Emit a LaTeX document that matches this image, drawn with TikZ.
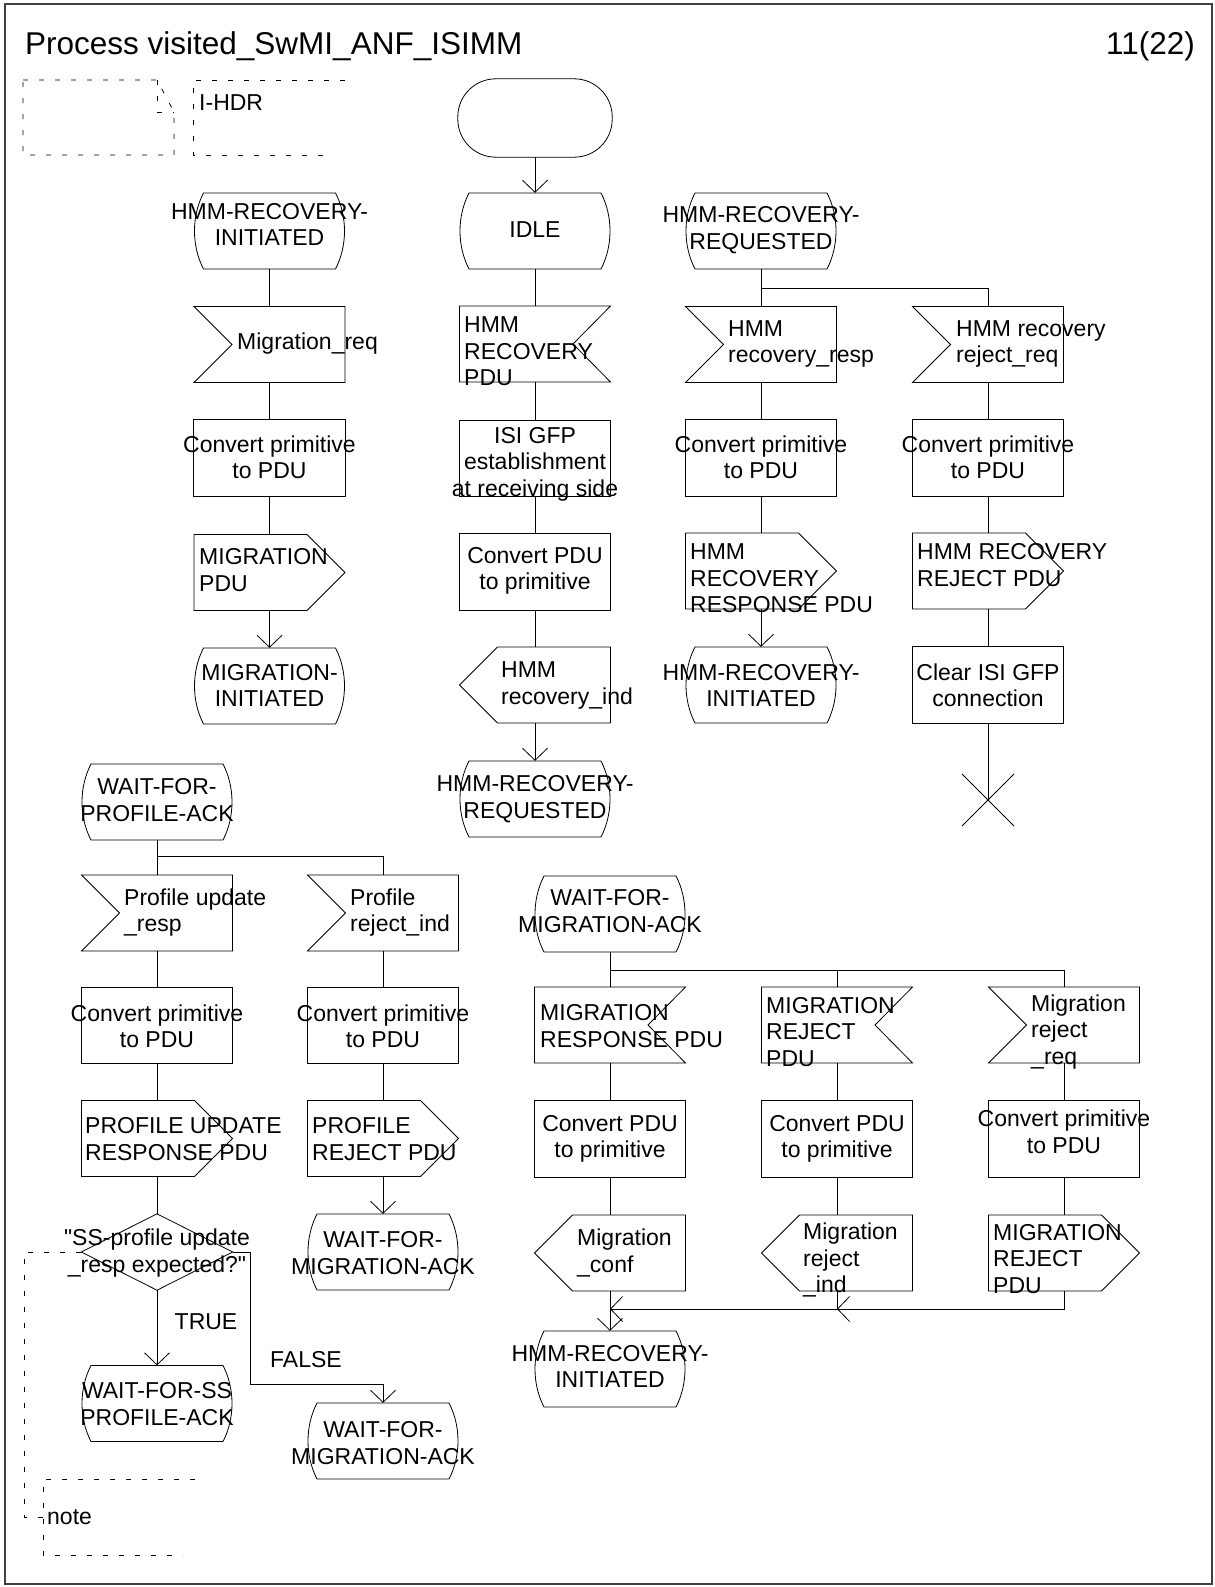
\documentclass[tikz,border=0pt]{standalone}
\usepackage{fontspec}
\setmainfont{Liberation Sans}
\usetikzlibrary{arrows.meta}
\tikzset{
  sdl/.style={rectangle, minimum width=151pt, minimum height=76pt, inner sep=0pt, draw=none},
  shp/.style={draw=black, line width=0.8pt},
  ln/.style={draw=black, line width=0.8pt},
  arr/.style={ln, -{Straight Barb[length=12pt,width=25pt]}},
  txt/.style={inner sep=0pt, font=\fontsize{23}{26.5}\selectfont},
  ttl/.style={inner sep=0pt, font=\fontsize{31.5}{36}\selectfont},
  dsh/.style={draw=black, line width=0.8pt, dash pattern=on 5pt off 11pt},
  frame/.style={draw=black!75, line width=1.5pt},
}
\newcommand{\sdlState}[3]{\node[sdl] (#1) at (#2,#3) {};
  \draw[shp,shift={(#2,#3)}] (-66,-38) -- (66,-38) .. controls (78,-15) and (78,15) .. (66,38) -- (-66,38) .. controls (-78,15) and (-78,-15) .. (-66,-38) -- cycle;}
\newcommand{\sdlInput}[3]{\node[sdl] (#1) at (#2,#3) {};
  \draw[shp,shift={(#2,#3)}] (-75.5,-38) -- (75.5,-38) -- (75.5,38) -- (-75.5,38) -- (-37.5,0) -- cycle;}
\newcommand{\sdlInputR}[3]{\node[sdl] (#1) at (#2,#3) {};
  \draw[shp,shift={(#2,#3)}] (-75.5,-38) -- (75.5,-38) -- (38,0) -- (75.5,38) -- (-75.5,38) -- cycle;}
\newcommand{\sdlOutput}[3]{\node[sdl] (#1) at (#2,#3) {};
  \draw[shp,shift={(#2,#3)}] (-75.5,-38) -- (37.5,-38) -- (75.5,0) -- (37.5,38) -- (-75.5,38) -- cycle;}
\newcommand{\sdlOutputL}[3]{\node[sdl] (#1) at (#2,#3) {};
  \draw[shp,shift={(#2,#3)}] (-75.5,0) -- (-37.5,-38) -- (75.5,-38) -- (75.5,38) -- (-37.5,38) -- cycle;}
\newcommand{\sdlTask}[3]{\node[sdl] (#1) at (#2,#3) {};
  \draw[shp] (#1.north west) rectangle (#1.south east);}
\newcommand{\sdlDecision}[3]{\node[sdl] (#1) at (#2,#3) {};
  \draw[shp] (#1.north) -- (#1.east) -- (#1.south) -- (#1.west) -- cycle;}
\begin{document}
\begin{tikzpicture}[x=1pt,y=-1pt]
\useasboundingbox (0,0) rectangle (1215,1587);
\draw[frame] (5,4) rectangle (1212,1584);
\node[ttl, anchor=west] (title) at (25,46) {Process visited\_SwMI\_ANF\_ISIMM};
\node[ttl, anchor=east] (page) at (1195,46) {11(22)};

% I-HDR text symbol
\draw[dsh] (23,80) -- (157,80) -- (174,112) -- (174,155) -- (23,155) -- cycle;
\draw[dsh] (157,80) -- (157,112) -- (174,112);
\draw[dsh] (345,80) -- (193,80) -- (193,155) -- (333,155);
\node[txt, anchor=west] (ihdr) at (199,103) {I-HDR};

% Column A
\sdlState{A1}{269.5}{231}
\sdlInput{A2}{269.5}{344.5}
\sdlTask{A3}{269.5}{458}
\sdlOutput{A4}{269.5}{572.5}
\sdlState{A5}{269.5}{686}
\node[txt, align=center] (tA1) at (269.5,224.5) {HMM-RECOVERY-\\INITIATED};
\node[txt, anchor=west] (tA2) at (237,344) {Migration\_req};
\node[txt, align=center] (tA3) at (269.5,457.5) {Convert primitive\\to PDU};
\node[txt, anchor=west, align=left] (tA4) at (199,570) {MIGRATION\\PDU};
\node[txt, align=center] (tA5) at (269.5,685.5) {MIGRATION-\\INITIATED};
\draw[ln] (A1.south) -- (A2.north) (A2.south) -- (A3.north) (A3.south) -- (A4.north);
\draw[arr] (A4.south) -- (A5.north);

% Column B
\node[sdl, minimum width=154pt, minimum height=78pt] (B0) at (535,118) {};
\draw[shp, rounded corners=38pt] (B0.south west) rectangle (B0.north east);
\sdlState{B1}{535}{231}
\sdlInputR{B2}{535}{344}
\sdlTask{B3}{535}{458.5}
\sdlTask{B4}{535}{572}
\sdlOutputL{B5}{535}{685}
\sdlState{B6}{535}{799}
\node[txt] (tB1) at (535,230) {IDLE};
\node[txt, anchor=west, align=left] (tB2) at (464,351.5) {HMM\\RECOVERY\\PDU};
\node[txt, align=center] (tB3) at (535,464) {ISI GFP\\establishment\\at receiving side};
\node[txt, align=center] (tB4) at (535,571) {Convert PDU\\to primitive};
\node[txt, anchor=west, align=left] (tB5) at (501,685.5) {HMM\\recovery\_ind};
\node[txt, align=center] (tB6) at (535,799) {HMM-RECOVERY-\\REQUESTED};
\draw[arr] (B0.south) -- (B1.north);
\draw[ln] (B1.south) -- (B2.north) (B2.south) -- (B3.north) (B3.south) -- (B4.north) (B4.south) -- (B5.north);
\draw[arr] (B5.south) -- (B6.north);

% Column C
\sdlState{C1}{761}{231}
\sdlInput{C2}{761}{344.5}
\sdlTask{C3}{761}{458}
\sdlOutput{C4}{761}{571}
\sdlState{C5}{761}{685}
\node[txt, align=center] (tC1) at (761,230) {HMM-RECOVERY-\\REQUESTED};
\node[txt, anchor=west, align=left] (tC2) at (728,344) {HMM\\recovery\_resp};
\node[txt, align=center] (tC3) at (761,457.5) {Convert primitive\\to PDU};
\node[txt, anchor=west, align=left] (tC4) at (690,578.5) {HMM\\RECOVERY\\RESPONSE PDU};
\node[txt, align=center] (tC5) at (761,685.5) {HMM-RECOVERY-\\INITIATED};
\coordinate (brC) at (761,288);
\draw[ln] (C1.south) -- (C2.north) (C2.south) -- (C3.north) (C3.south) -- (C4.north);
\draw[arr] (C4.south) -- (C5.north);

% Column D
\sdlInput{D2}{988}{344.5}
\sdlTask{D3}{988}{458}
\sdlOutput{D4}{988}{571}
\sdlTask{D5}{988}{685}
\node[txt, anchor=west, align=left] (tD2) at (956,344) {HMM recovery\\reject\_req};
\node[txt, align=center] (tD3) at (988,457.5) {Convert primitive\\to PDU};
\node[txt, anchor=west, align=left] (tD4) at (917,565) {HMM RECOVERY\\REJECT PDU};
\node[txt, align=center] (tD5) at (988,685.5) {Clear ISI GFP\\connection};
\coordinate (stopD) at (988,800);
\draw[ln] (brC) -| (D2.north);
\draw[ln] (D2.south) -- (D3.north) (D3.south) -- (D4.north) (D4.south) -- (D5.north) (D5.south) -- (stopD);
\draw[ln] (stopD) +(-26,-26) -- +(26,26) (stopD) +(-26,26) -- +(26,-26);

% Column E
\sdlState{E1}{157}{802}
\sdlInput{E2}{157}{913}
\sdlTask{E3}{157}{1025.5}
\sdlOutput{E4}{157}{1138.5}
\sdlDecision{E5}{157}{1252}
\sdlState{E6}{157}{1403.5}
\node[txt, align=center] (tE1) at (157,800) {WAIT-FOR-\\PROFILE-ACK};
\node[txt, anchor=west, align=left] (tE2) at (124,912.5) {Profile update\\\_resp};
\node[txt, align=center] (tE3) at (157,1026.5) {Convert primitive\\to PDU};
\node[txt, anchor=west, align=left] (tE4) at (85,1139) {PROFILE UPDATE\\RESPONSE PDU};
\node[txt, align=center] (tE5) at (157,1253) {\textquotedbl SS-profile update\\\_resp expected?\textquotedbl};
\node[txt, align=center] (tE6) at (157,1404) {WAIT-FOR-SS\\PROFILE-ACK};
\node[txt] (tTrue) at (206,1322) {TRUE};
\node[txt] (tFalse) at (306,1360) {FALSE};
\coordinate (brE) at (157,856);
\draw[ln] (E1.south) -- (E2.north) (E2.south) -- (E3.north) (E3.south) -- (E4.north) (E4.south) -- (E5.north);
\draw[arr] (E5.south) -- (E6.north);

% Column F
\sdlInput{F2}{383}{913}
\sdlTask{F3}{383}{1025.5}
\sdlOutput{F4}{383}{1138.5}
\sdlState{F5}{383}{1252}
\sdlState{F6}{383}{1441}
\node[txt, anchor=west, align=left] (tF2) at (350,912.5) {Profile\\reject\_ind};
\node[txt, align=center] (tF3) at (383,1026.5) {Convert primitive\\to PDU};
\node[txt, anchor=west, align=left] (tF4) at (312,1139) {PROFILE\\REJECT PDU};
\node[txt, align=center] (tF5) at (383,1253) {WAIT-FOR-\\MIGRATION-ACK};
\node[txt, align=center] (tF6) at (383,1443) {WAIT-FOR-\\MIGRATION-ACK};
\draw[ln] (brE) -| (F2.north);
\draw[ln] (F2.south) -- (F3.north) (F3.south) -- (F4.north);
\draw[arr] (F4.south) -- (F5.north);
\coordinate (fa1) at (250,1252);
\coordinate (fa2) at (250,1384);
\draw[arr] (E5.east) -- (fa1) -- (fa2) -| (F6.north);

% note
\coordinate (noteL) at (43,1517);
\draw[dsh] (E5.west) -- (24,1252) |- (noteL);
\draw[dsh] (195,1479) -- (43,1479) -- (43,1555) -- (183,1555);
\node[txt, anchor=west] (tNote) at (47,1517) {note};

% Column G
\sdlState{G1}{610}{914}
\sdlInputR{G2}{610}{1025}
\sdlTask{G3}{610}{1139}
\sdlOutputL{G4}{610}{1253}
\sdlState{G5}{610}{1369}
\node[txt, align=center] (tG1) at (610,911) {WAIT-FOR-\\MIGRATION-ACK};
\node[txt, anchor=west, align=left] (tG2) at (540,1026) {MIGRATION\\RESPONSE PDU};
\node[txt, align=center] (tG3) at (610,1139) {Convert PDU\\to primitive};
\node[txt, anchor=west, align=left] (tG4) at (577,1253) {Migration\\\_conf};
\node[txt, align=center] (tG5) at (610,1366.5) {HMM-RECOVERY-\\INITIATED};
\coordinate (brG) at (610,970);
\coordinate (mgG) at (610,1309);
\coordinate (mgH) at (837,1309);
\draw[ln] (G1.south) -- (G2.north) (G2.south) -- (G3.north) (G3.south) -- (G4.north);
\draw[arr] (G4.south) -- (G5.north);

% Column H
\sdlInputR{H2}{837}{1025}
\sdlTask{H3}{837}{1139}
\sdlOutputL{H4}{837}{1253}
\node[txt, anchor=west, align=left] (tH2) at (766,1032) {MIGRATION\\REJECT\\PDU};
\node[txt, align=center] (tH3) at (837,1139) {Convert PDU\\to primitive};
\node[txt, anchor=west, align=left] (tH4) at (803,1260) {Migration\\reject\\\_ind};
\draw[ln] (brG) -| (H2.north);
\draw[ln] (H2.south) -- (H3.north) (H3.south) -- (H4.north);
\draw[arr] (H4.south) |- (mgG);

% Column I
\sdlInput{I2}{1064}{1025}
\sdlTask{I3}{1064}{1139}
\sdlOutput{I4}{1064}{1253}
\node[txt, anchor=west, align=left] (tI2) at (1031,1032) {Migration\\reject\\\_req};
\node[txt, align=center] (tI3) at (1064,1132) {Convert primitive\\to PDU};
\node[txt, anchor=west, align=left] (tI4) at (993,1259) {MIGRATION\\REJECT\\PDU};
\draw[ln] (brG) -| (I2.north);
\draw[ln] (I2.south) -- (I3.north) (I3.south) -- (I4.north);
\draw[arr] (I4.south) |- (mgH);
\end{tikzpicture}
\end{document}
